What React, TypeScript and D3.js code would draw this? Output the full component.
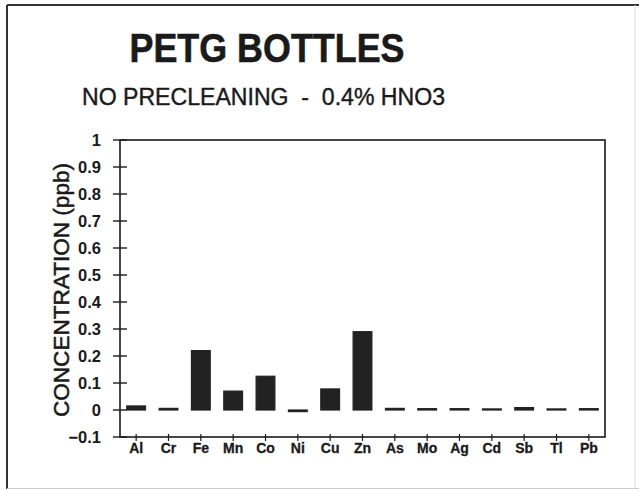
import React from "react";
import * as d3 from "d3";

const elements = ["Al", "Cr", "Fe", "Mn", "Co", "Ni", "Cu", "Zn", "As", "Mo", "Ag", "Cd", "Sb", "Tl", "Pb"];
const concentrations = [0.015, 0.006, 0.22, 0.07, 0.125, -0.006, 0.078, 0.29, 0.006, 0.005, 0.005, 0.004, 0.009, 0.004, 0.005];
const yTicks = [-0.1, 0, 0.1, 0.2, 0.3, 0.4, 0.5, 0.6, 0.7, 0.8, 0.9, 1];
const title = "PETG BOTTLES";
const subtitle = "NO PRECLEANING  -  0.4% HNO3";
const yLabel = "CONCENTRATION (ppb)";

const W = 639, H = 490;
const plot = { left: 120, right: 605, top: 140, bottom: 437 };

export default function App() {
  const x = d3.scaleBand<string>().domain(elements).range([plot.left, plot.right]).paddingInner(0.42).paddingOuter(0.21);
  const y = d3.scaleLinear().domain([-0.1, 1]).range([plot.bottom, plot.top]);
  const font = "'Liberation Sans', Arial, Helvetica, sans-serif";
  const ink = "#1a1a1a";
  return (
    <svg width={W} height={H} style={{ position: "absolute", left: 0, top: 0, background: "#fff" }} fontFamily={font}>
      {/* outer frame */}
      <line x1={7} y1={5} x2={639} y2={5} stroke="#333" strokeWidth={2} />
      <line x1={7} y1={5} x2={7} y2={489} stroke="#333" strokeWidth={2} />
      <line x1={635} y1={5} x2={635} y2={489} stroke="#ddd" strokeWidth={1} />
      <line x1={7} y1={488.5} x2={639} y2={488.5} stroke="#ccc" strokeWidth={1} />

      <text x={267} y={62} textAnchor="middle" fontSize={40} fontWeight="bold" fill={ink} stroke={ink} strokeWidth={0.6} textLength={275} lengthAdjust="spacingAndGlyphs">{title}</text>
      <text x={263.5} y={105} textAnchor="middle" fontSize={23} fill={ink} stroke={ink} strokeWidth={0.4} xmlSpace="preserve" style={{ whiteSpace: "pre" }} textLength={363} lengthAdjust="spacingAndGlyphs">{subtitle}</text>

      {/* plot frame */}
      <rect x={plot.left} y={plot.top} width={plot.right - plot.left} height={plot.bottom - plot.top} fill="none" stroke={ink} strokeWidth={1.6} />

      {/* y ticks */}
      {yTicks.map((t) => (
        <g key={t}>
          <line x1={plot.left - 7} x2={plot.left + 7} y1={y(t)} y2={y(t)} stroke={ink} strokeWidth={1.4} />
          <text x={101} y={y(t)} dy="0.36em" textAnchor="end" fontSize={16.5} fontWeight="bold" fill={ink}>{d3.format("")(t)}</text>
        </g>
      ))}

      {/* bars */}
      {elements.map((e, i) => {
        const v = concentrations[i];
        const y0 = y(Math.max(0, v));
        const h = Math.abs(y(v) - y(0));
        return <rect key={e} x={x(e)} y={y0} width={x.bandwidth()} height={h} fill="#222" stroke="#222" strokeWidth={1.2} />;
      })}

      {/* x ticks and labels */}
      {elements.map((e) => {
        const cx = (x(e) as number) + x.bandwidth() / 2;
        return (
          <g key={e}>
            <line x1={cx} x2={cx} y1={plot.bottom - 3} y2={plot.bottom + 4} stroke={ink} strokeWidth={1.2} />
            <text x={cx} y={453} textAnchor="middle" fontSize={14} fontWeight="bold" fill={ink} stroke={ink} strokeWidth={0.3}>{e}</text>
          </g>
        );
      })}

      <text transform={`translate(61,290) rotate(-90)`} textAnchor="middle" dominantBaseline="central" fontSize={22} fill={ink} stroke={ink} strokeWidth={0.5} textLength={254} lengthAdjust="spacingAndGlyphs">{yLabel}</text>
    </svg>
  );
}
